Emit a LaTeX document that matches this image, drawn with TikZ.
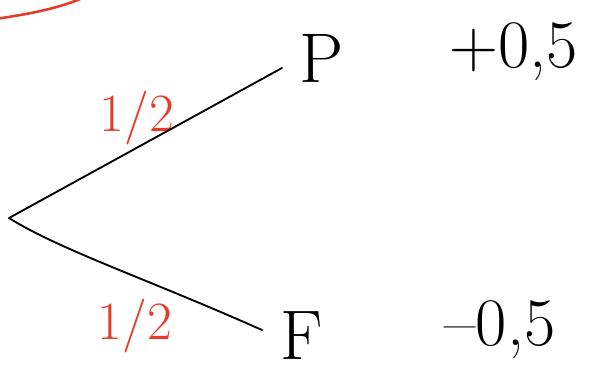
\documentclass[tikz,border=0pt]{standalone}
\usepackage{fontspec}
\definecolor{pen}{RGB}{232,58,38}
\tikzset{
  ink/.style={line width=1.6pt, line cap=round, black},
  redink/.style={line width=2.2pt, line cap=round, pen},
  outcome/.style={font=\fontsize{60}{60}\selectfont, inner sep=0pt, outer sep=0pt},
  payoff/.style={font=\fontsize{58}{58}\selectfont, inner sep=0pt},
  prob/.style={font=\fontsize{46}{46}\selectfont, text=pen, inner sep=0pt},
}
\begin{document}
\begin{tikzpicture}[x=0.03cm,y=-0.03cm]
\useasboundingbox (0,0) rectangle (594,379);
\clip (0,0) rectangle (594,379);
% red arc
\draw[redink] (-5,19) .. controls (30,14) and (60,8) .. (85,-3);
% nodes
\coordinate (root) at (9,218);
\node[outcome] (P) at (322,58) {P};
\node[outcome] (F) at (302,336) {F};
\node[payoff] (vP) at (514,52) {+0,5};
\node[payoff] (vF) at (500,330) {–0,5};
\node[prob] (pP) at (137,118) {1/2};
\node[prob] (pF) at (135,326) {1/2};
% branches
\draw[ink] (root) -- (282,68) coordinate (pe);
\draw[ink] (root) .. controls (60,250) and (150,280) .. (262,330) coordinate (fe);
\end{tikzpicture}
\end{document}
